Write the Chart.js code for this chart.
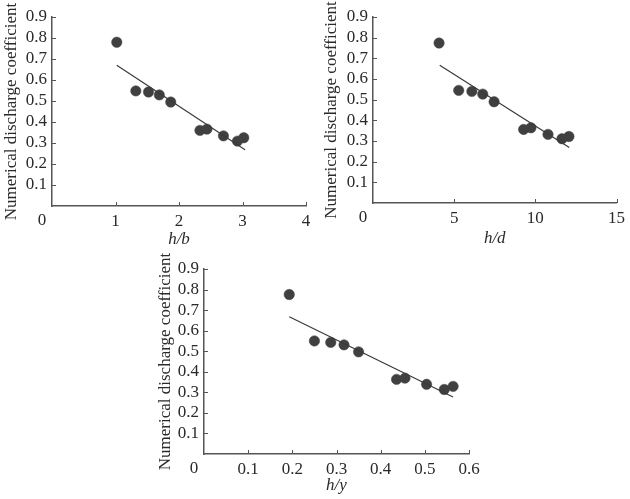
<!DOCTYPE html>
<html>
<head>
<meta charset="utf-8">
<script src="https://cdn.jsdelivr.net/npm/chart.js@4.4.1/dist/chart.umd.min.js"></script>
<style>
  html, body { margin: 0; padding: 0; background: #fff; overflow: hidden; }
  #wrap { position: relative; width: 630px; height: 499px; }
  canvas { position: absolute; left: 0; top: 0; }
  .probe { font-family: "Liberation Serif"; position: absolute; left: -999px; }
</style>
</head>
<body>
<div id="wrap">
  <canvas id="c1" width="630" height="499"></canvas>
  <canvas id="c2" width="630" height="499"></canvas>
  <canvas id="c3" width="630" height="499"></canvas>
</div>
<span class="probe">0.9 Numerical</span>
<script>
// ---- data ----
const coefTicks = [0, 0.1, 0.2, 0.3, 0.4, 0.5, 0.6, 0.7, 0.8, 0.9];

const hbTicks = [0, 1, 2, 3, 4];
const hb    = [1.02, 1.32, 1.52, 1.69, 1.87, 2.33, 2.44, 2.70, 2.92, 3.02];
const coefB = [0.780, 0.548, 0.543, 0.529, 0.495, 0.360, 0.366, 0.334, 0.309, 0.325];
const fitBx = [1.02, 3.04];
const fitBy = [0.670, 0.268];

const hdTicks = [0, 5, 10, 15];
const hd    = [4.07, 5.28, 6.09, 6.76, 7.46, 9.28, 9.73, 10.78, 11.64, 12.07];
const coefD = [0.774, 0.545, 0.540, 0.527, 0.490, 0.356, 0.364, 0.332, 0.311, 0.322];
const fitDx = [4.11, 12.09];
const fitDy = [0.666, 0.269];

const hyTicks = [0, 0.1, 0.2, 0.3, 0.4, 0.5, 0.6];
const hy    = [0.193, 0.250, 0.287, 0.317, 0.350, 0.436, 0.455, 0.504, 0.544, 0.564];
const coefY = [0.776, 0.550, 0.543, 0.531, 0.497, 0.363, 0.369, 0.339, 0.314, 0.329];
const fitYx = [0.193, 0.564];
const fitYy = [0.668, 0.277];

const yTitle = 'Numerical discharge coefficient';

// ---- drawing ----
const FONT = '"Liberation Serif", "Times New Roman", Times, serif';
const AXIS_COLOR = '#555';
const TEXT_COLOR = '#2a2a2a';

function fmt(v, digits) { return v === 0 ? '0' : v.toFixed(digits); }

const innerTicks = {
  id: 'innerTicks',
  afterDraw(chart) {
    const ctx = chart.ctx, xs = chart.scales.x, ys = chart.scales.y;
    const a = chart.chartArea;
    ctx.save();
    ctx.strokeStyle = AXIS_COLOR;
    ctx.lineWidth = 1;
    ys.ticks.forEach(t => {
      if (t.value === 0) return;
      const p = Math.round(ys.getPixelForValue(t.value)) + 0.5;
      ctx.beginPath(); ctx.moveTo(a.left, p); ctx.lineTo(a.left + 4, p); ctx.stroke();
    });
    xs.ticks.forEach(t => {
      if (t.value === 0) return;
      const p = Math.round(xs.getPixelForValue(t.value)) + 0.5;
      ctx.beginPath(); ctx.moveTo(p, a.bottom); ctx.lineTo(p, a.bottom - 4); ctx.stroke();
    });
    // origin label "0", set slightly left of the corner as in the reference
    ctx.fillStyle = TEXT_COLOR;
    ctx.font = '17px ' + FONT;
    ctx.textAlign = 'center';
    ctx.textBaseline = 'middle';
    ctx.fillText('0', xs.getPixelForValue(0) - 10, a.bottom + chart.options.scales.x.ticks.padding + 10);
    ctx.restore();
  }
};

function makeChart(id, xv, yv, fx, fy, xTicks, xDigits, xTitle, L) {
  const pts = xv.map((x, i) => ({ x: x, y: yv[i] }));
  const fit = fx.map((x, i) => ({ x: x, y: fy[i] }));
  return new Chart(document.getElementById(id), {
    type: 'scatter',
    data: {
      datasets: [
        { data: fit, showLine: true, borderColor: '#3a3a3a', borderWidth: 1.2,
          pointRadius: 0, fill: false, order: 0 },
        { data: pts, pointRadius: 5.2, pointBackgroundColor: '#404040',
          pointBorderColor: '#404040', pointBorderWidth: 0.5, order: 1 }
      ]
    },
    options: {
      responsive: false,
      animation: false,
      events: [],
      layout: { padding: { left: L.padL, right: L.padR, top: L.padT, bottom: L.padB } },
      plugins: { legend: { display: false }, tooltip: { enabled: false } },
      scales: {
        x: {
          type: 'linear',
          min: xTicks[0], max: xTicks[xTicks.length - 1],
          afterBuildTicks: s => { s.ticks = xTicks.map(v => ({ value: v })); },
          afterFit: s => { s.height = L.xH; },
          grid: { display: false, drawTicks: false },
          border: { display: true, color: AXIS_COLOR, width: 1.5 },
          ticks: {
            padding: 5, color: TEXT_COLOR, maxRotation: 0, autoSkip: false,
            font: { family: FONT, size: 17 },
            callback: v => v === 0 ? '' : fmt(v, xDigits)
          },
          title: {
            display: true, text: xTitle, color: TEXT_COLOR,
            font: { family: FONT, size: 17, style: 'italic' },
            padding: { top: 0, bottom: L.xTitlePadB }
          }
        },
        y: {
          type: 'linear',
          min: 0, max: 0.9,
          afterBuildTicks: s => { s.ticks = coefTicks.map(v => ({ value: v })); },
          afterFit: s => { s.width = L.yW; },
          grid: { display: false, drawTicks: false },
          border: { display: true, color: AXIS_COLOR, width: 1.5 },
          ticks: {
            padding: 5, color: TEXT_COLOR, autoSkip: false,
            font: { family: FONT, size: 17 },
            callback: v => v === 0 ? '' : v.toFixed(1)
          },
          title: {
            display: true, text: yTitle, color: TEXT_COLOR,
            font: { family: FONT, size: 17 },
            padding: { top: 1, bottom: 0 }
          }
        }
      }
    },
    plugins: [innerTicks]
  });
}

makeChart('c1', hb, coefB, fitBx, fitBy, hbTicks, 0, 'h/b',
  { padL: 0, yW: 52, padR: 324, padT: 17, padB: 245, xH: 48, xTitlePadB: 4 });
makeChart('c2', hd, coefD, fitDx, fitDy, hdTicks, 0, 'h/d',
  { padL: 320, yW: 53, padR: 9, padT: 17, padB: 246, xH: 50, xTitlePadB: 4 });
makeChart('c3', hy, coefY, fitYx, fitYy, hyTicks, 1, 'h/y',
  { padL: 154, yW: 50, padR: 161, padT: 269, padB: 3, xH: 42, xTitlePadB: 0 });
</script>
</body>
</html>
